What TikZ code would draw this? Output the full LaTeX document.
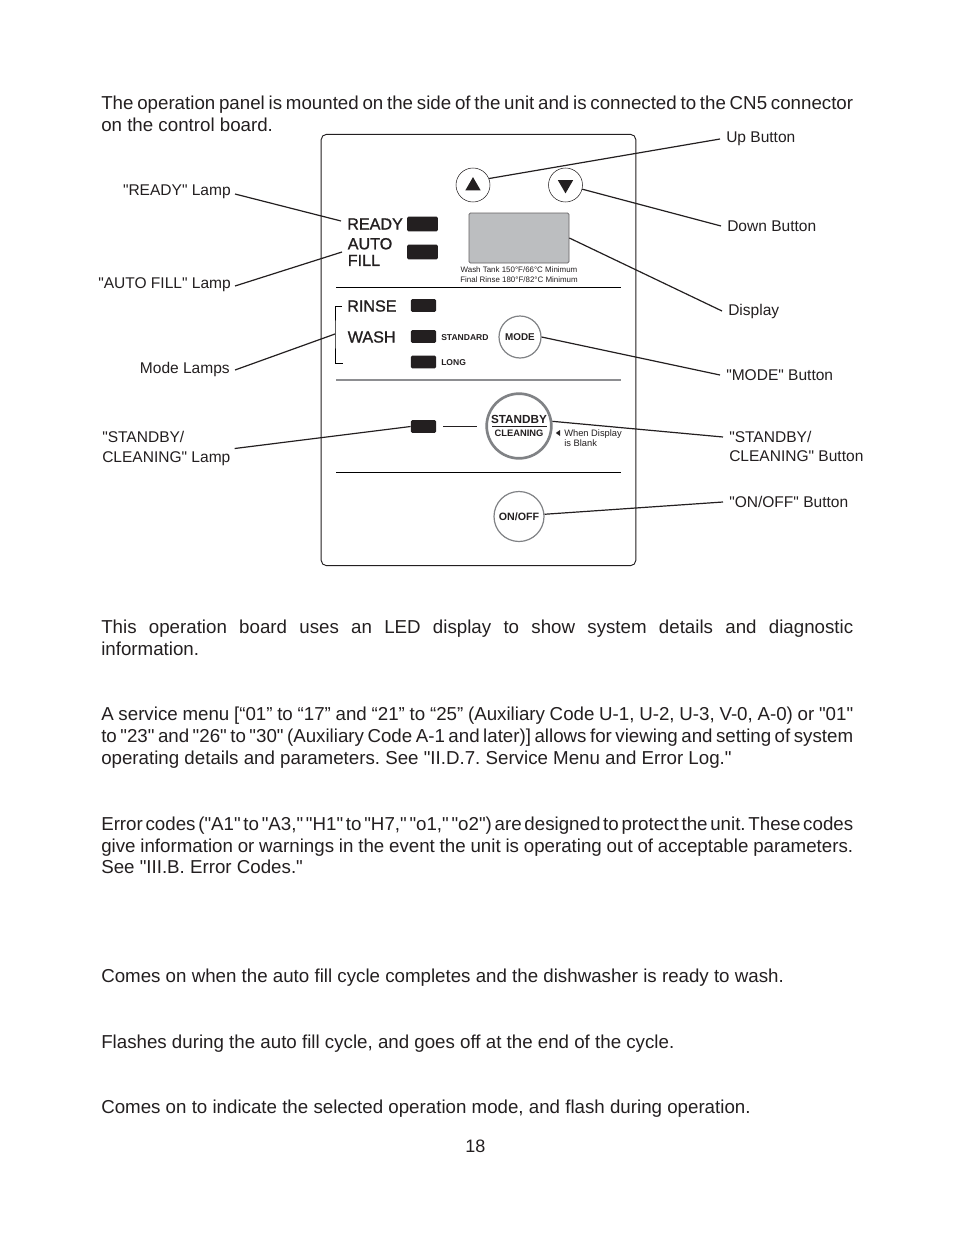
\documentclass[tikz,border=0pt]{standalone}
\usepackage{fontspec}
\setmainfont[Ligatures=TeXOff]{Liberation Sans}
\newfontfamily\panelfont[FakeBold=1.1]{Liberation Sans}
\usepackage{tikz}
\usetikzlibrary{positioning,shapes.geometric}
\definecolor{inkdark}{HTML}{231F20}
\definecolor{ringgray}{HTML}{808285}
\definecolor{screengray}{HTML}{BCBEC0}
\newcommand{\fullline}[1]{\makebox[564pt][s]{\spaceskip=0.13em plus 1fil\relax #1}}

\begin{document}
\begin{tikzpicture}[
  x=0.75pt, y=-0.75pt,
  para/.style={anchor=west, inner sep=0pt, align=left, text=inkdark,
               font=\frenchspacing\fontsize{14.04}{16.3}\selectfont},
  calllabel/.style={inner sep=3pt, align=left, text=inkdark,
                    font=\fontsize{11.65}{14.5}\selectfont},
  rightlabel/.style={calllabel, anchor=west, inner xsep=4.5pt},
  panelword/.style={anchor=west, inner sep=0pt, align=left, text=inkdark,
                    font=\panelfont\fontsize{12.1}{12.5}\selectfont},
  lamp/.style={rectangle, rounded corners=1pt, fill=inkdark, draw=none,
               minimum width=#1, minimum height=11pt, inner sep=0pt},
  lamp/.default=23pt,
  bigbutton/.style={circle, draw=ringgray, line width=#1, fill=white, inner sep=0pt,
                    text=inkdark, align=center},
  tinytext/.style={inner sep=0pt, align=left, text=inkdark,
                   font=\fontsize{5.95}{7.5}\selectfont},
  smallbold/.style={inner sep=0pt, text=inkdark,
                    font=\bfseries\fontsize{6.4}{7}\selectfont},
  leader/.style={draw=inkdark, line width=0.9pt},
  divider/.style={line width=0.7pt},
]
  \useasboundingbox[fill=white] (0,0) rectangle (954,1235);

  \node[para] (intro) at (101,114) {\fullline{The operation panel is mounted on the side of the unit and is connected to the CN5 connector}\\on the control board.};

  \node[draw=inkdark, line width=0.7pt, rounded corners=4pt, rectangle, inner sep=0pt,
        minimum width=236pt, minimum height=323.5pt] (panel) at (478.5,350) {};

  \node[circle, draw=inkdark, line width=0.4pt, minimum size=25.5pt, inner sep=0pt] (upbtn) at (473,185) {};
  \node[circle, draw=inkdark, line width=0.4pt, minimum size=25.5pt, inner sep=0pt] (downbtn) at (565.5,185) {};
  \node[isosceles triangle, isosceles triangle apex angle=60, shape border rotate=90, fill=inkdark,
        minimum height=10pt, inner sep=0pt] (uptri) at (473,186) {};
  \node[isosceles triangle, isosceles triangle apex angle=60, shape border rotate=-90, fill=inkdark,
        minimum height=10pt, inner sep=0pt] (downtri) at (565.5,184.5) {};

  \node[panelword] (readyword) at (347,224) {READY};
  \node[panelword] (autoword) at (347.5,252) {AUTO\\FILL};
  \node[panelword] (rinseword) at (347,306) {RINSE};
  \node[panelword] (washword) at (347.5,337) {WASH};

  \node[lamp] (readylamp) at (422.5,224) {};
  \node[lamp] (autolamp) at (422.5,252) {};
  \node[lamp=19pt, minimum height=9.5pt] (rinselamp) at (423.5,305.5) {};
  \node[lamp=19pt, minimum height=9.5pt] (stdlamp) at (423.5,336.5) {};
  \node[lamp=19pt, minimum height=9.5pt] (longlamp) at (423.5,362) {};
  \node[lamp=19pt, minimum height=9.5pt] (standbylamp) at (423.5,426.5) {};

  \node[rectangle, rounded corners=1pt, draw=inkdark!70, line width=0.5pt, fill=screengray,
        minimum width=75pt, minimum height=37.5pt, inner sep=0pt] (screen) at (519,238) {};
  \node[tinytext] (tankline) at (519,270) {Wash Tank 150°F/66°C Minimum};
  \node[tinytext] (rinseline) at (519,280) {Final Rinse 180°F/82°C Minimum};

  \coordinate (divA) at (336,287);
  \coordinate (divAend) at (621,287);
  \draw[divider] (divA) -- (divAend);

  \coordinate (brtop) at (342,306);
  \coordinate (brbot) at (343,363);
  \coordinate (brmid) at (335,334);
  \draw[line width=0.75pt] (brtop) -| (brmid) |- (brbot);

  \node[smallbold, anchor=west] (stdword) at (441,337.5) {STANDARD};
  \node[smallbold, anchor=west] (longword) at (441,362.5) {LONG};
  \node[bigbutton=0.9pt, minimum size=31.5pt, font=\bfseries\fontsize{7.4}{8}\selectfont] (modebtn) at (520,337) {MODE};

  \coordinate (divB) at (336,380);
  \coordinate (divBend) at (621,380);
  \draw[divider, draw=ringgray!90, line width=1pt] (divB) -- (divBend);

  \node[bigbutton=2pt, minimum size=48.5pt] (standbybtn) at (519,426) {};
  \node[inner sep=0pt, text=inkdark, font=\bfseries\fontsize{8.8}{9}\selectfont] (standbyword) at (519,419.5) {STANDBY};
  \node[inner sep=0pt, text=inkdark, font=\bfseries\fontsize{7}{8}\selectfont] (cleanword) at (519,433.5) {CLEANING};
  \coordinate (ruleL) at (492,426.5);
  \coordinate (ruleR) at (547,426.5);
  \draw[line width=0.6pt, draw=inkdark] (ruleL) -- (ruleR);
  \coordinate (linkend) at (477,426);
  \coordinate (linkstart) at (443,426);
  \draw[line width=0.6pt, draw=inkdark] (linkstart) -- (linkend);
  \node[isosceles triangle, isosceles triangle apex angle=70, shape border rotate=180, fill=inkdark,
        minimum height=3.2pt, inner sep=0pt] (blanktri) at (558.5,433) {};
  \node[tinytext, anchor=west, font=\fontsize{7}{7.5}\selectfont] (blankword) at (564,438) {When Display\\is Blank};

  \coordinate (divC) at (336,472);
  \coordinate (divCend) at (621,472);
  \draw[divider] (divC) -- (divCend);

  \node[bigbutton=0.9pt, minimum size=37.5pt, font=\bfseries\fontsize{8}{9}\selectfont] (onoffbtn) at (519,516.5) {ON/OFF};

  \node[rightlabel] (uplabel) at (720,139) {Up Button};
  \node[rightlabel] (downlabel) at (721,226) {Down Button};
  \node[rightlabel] (displabel) at (722,311) {Display};
  \node[rightlabel] (modelabel) at (720,375) {"MODE" Button};
  \node[rightlabel] (sbbtnlabel) at (723,446.5) {"STANDBY/\\CLEANING" Button};
  \node[rightlabel] (onofflabel) at (723,502) {"ON/OFF" Button};

  \node[calllabel, anchor=east] (readylabel) at (235,192) {"READY" Lamp};
  \node[calllabel, anchor=east] (autolabel) at (235,285) {"AUTO FILL" Lamp};
  \node[calllabel, anchor=east] (modeslabel) at (234,369) {Mode Lamps};
  \node[calllabel, anchor=west] (sblamplabel) at (98,448.5) {"STANDBY/\\CLEANING" Lamp};

  \coordinate (readytip) at (235,194);
  \coordinate (readyend) at (341,221);
  \coordinate (autotip) at (235,286);
  \coordinate (autoend) at (342,252);
  \coordinate (modestip) at (235,370);
  \coordinate (sbtip) at (723,437);
  \draw[leader] (readytip) -- (readyend);
  \draw[leader] (autotip) -- (autoend);
  \draw[leader] (modestip) -- (brmid);
  \draw[leader] (sblamplabel.east) -- (standbylamp.west);
  \draw[leader] (upbtn.22) -- (uplabel.west);
  \draw[leader] (downbtn.-14) -- (downlabel.west);
  \draw[leader] (screen.east) -- (displabel.west);
  \draw[leader] (modebtn.east) -- (modelabel.west);
  \draw[leader] (standbybtn.8) -- (sbtip);
  \draw[leader] (onoffbtn.5) -- (onofflabel.west);

  \node[para] (ledpara) at (101,638) {\fullline{This operation board uses an LED display to show system details and diagnostic}\\information.};
  \node[para] (menupara) at (101,737.5) {\fullline{A service menu [“01” to “17” and “21” to “25” (Auxiliary Code U-1, U-2, U-3, V-0, A-0) or "01"}\\\fullline{to "23" and "26" to "30" (Auxiliary Code A-1 and later)] allows for viewing and setting of system}\\operating details and parameters. See "II.D.7. Service Menu and Error Log."};
  \node[para] (errpara) at (101,845.5) {\fullline{Error codes ("A1" to "A3," "H1" to "H7," "o1," "o2") are designed to protect the unit. These codes}\\\fullline{give information or warnings in the event the unit is operating out of acceptable parameters.}\\See "III.B. Error Codes."};
  \node[para] (readypara) at (101,978) {Comes on when the auto fill cycle completes and the dishwasher is ready to wash.};
  \node[para] (fillpara) at (101,1044) {Flashes during the auto fill cycle, and goes off at the end of the cycle.};
  \node[para] (modepara) at (101,1109) {Comes on to indicate the selected operation mode, and flash during operation.};
  \node[para, font=\fontsize{13.5}{15}\selectfont] (pagenum) at (465,1146) {18};
\end{tikzpicture}
\end{document}
